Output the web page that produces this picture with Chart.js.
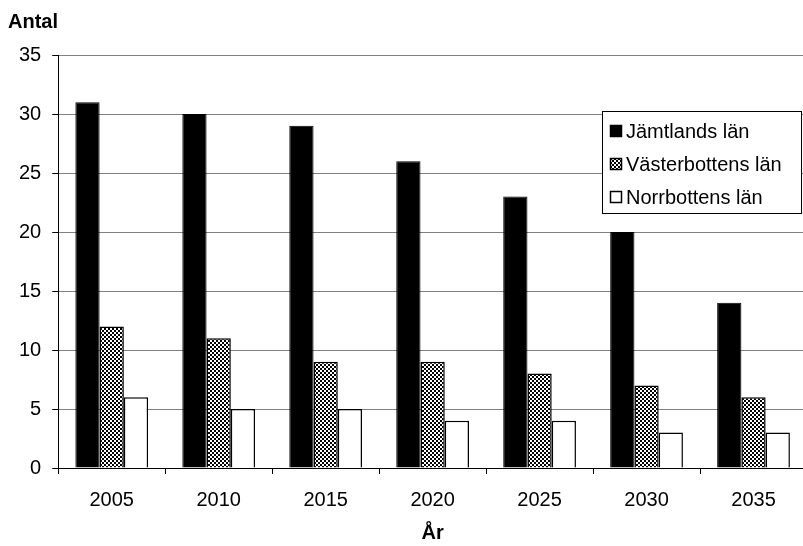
<!DOCTYPE html>
<html>
<head>
<meta charset="utf-8">
<script src="https://cdn.jsdelivr.net/npm/chart.js@4"></script>
<style>
  body { margin: 0; background: #fff; overflow: hidden; }
  #wrap { width: 810px; height: 546px; }
</style>
</head>
<body>
<div id="wrap"><canvas id="chart" width="810" height="546"></canvas></div>
<script>
// data
const years = ['2005', '2010', '2015', '2020', '2025', '2030', '2035']
const jamtland = [31, 30, 29, 26, 23, 20, 14]
const vasterbotten = [12, 11, 9, 9, 8, 7, 6]
const norrbotten = [6, 5, 5, 4, 4, 3, 3]

const FONT = 'Liberation Sans, Arial, sans-serif'

// checkered fill for the middle series
function makePattern() {
    var c = document.createElement('canvas')
    c.width = 4
    c.height = 4
    var g = c.getContext('2d')
    g.fillStyle = '#fff'
    g.fillRect(0, 0, 4, 4)
    g.fillStyle = '#000'
    g.fillRect(0, 0, 2, 2)
    g.fillRect(2, 2, 2, 2)
    return g.createPattern(c, 'repeat')
}
var checker = makePattern()

// legend box sitting inside the plot, upper right
const boxLegend = {
    id: 'boxLegend',
    afterDraw(chart) {
        var ctx = chart.ctx
        var x = 602, y = 111, w = 199, h = 102
        ctx.save()
        ctx.fillStyle = '#fff'
        ctx.fillRect(x, y, w, h)
        ctx.strokeStyle = '#000'
        ctx.lineWidth = 1
        ctx.strokeRect(x + 0.5, y + 0.5, w, h)
        ctx.font = '20px ' + FONT
        ctx.textBaseline = 'middle'
        chart.data.datasets.forEach(function (ds, i) {
            var cy = 131 + i * 33
            ctx.fillStyle = ds.backgroundColor
            ctx.fillRect(610, cy - 6, 12, 12)
            ctx.strokeStyle = '#000'
            ctx.lineWidth = 1.5
            ctx.strokeRect(610.5, cy - 5.5, 11, 11)
            ctx.fillStyle = '#000'
            ctx.fillText(ds.label, 626, cy + 1)
        })
        ctx.restore()
    }
}

var context = document.getElementById('chart').getContext('2d')
new Chart(context, {
    type: 'bar',
    data: {
        labels: years,
        datasets: [{
            label: 'Jämtlands län',
            data: jamtland,
            backgroundColor: '#000',
            borderColor: '#000',
            borderWidth: 1
        }, {
            label: 'Västerbottens län',
            data: vasterbotten,
            backgroundColor: checker,
            borderColor: '#000',
            borderWidth: 1.5
        }, {
            label: 'Norrbottens län',
            data: norrbotten,
            backgroundColor: '#fff',
            borderColor: '#000',
            borderWidth: 1.5
        }]
    },
    options: {
        responsive: false,
        animation: false,
        layout: { padding: { top: 0, right: 3, left: 8, bottom: 1 } },
        datasets: {
            bar: { categoryPercentage: 0.68, barPercentage: 1 }
        },
        plugins: {
            legend: { display: false },
            tooltip: { enabled: false },
            title: {
                display: true,
                text: 'Antal',
                align: 'start',
                color: '#000',
                font: { family: FONT, size: 20, weight: 'bold' },
                padding: { top: 10, bottom: 21 }
            }
        },
        scales: {
            x: {
                grid: { drawOnChartArea: false, drawTicks: true, tickLength: 6, color: '#000', offset: true },
                border: { color: '#000', width: 1 },
                ticks: { color: '#000', font: { family: FONT, size: 20 }, padding: 14 },
                title: {
                    display: true,
                    text: 'År',
                    color: '#000',
                    font: { family: FONT, size: 20, weight: 'bold' },
                    padding: { top: -5, bottom: 0 }
                }
            },
            y: {
                min: 0,
                max: 35,
                ticks: { stepSize: 5, color: '#000', font: { family: FONT, size: 20 }, padding: 11 },
                grid: { color: '#808080', tickColor: '#000', tickLength: 6 },
                border: { color: '#000', width: 1 }
            }
        }
    },
    plugins: [boxLegend]
})
</script>
</body>
</html>
